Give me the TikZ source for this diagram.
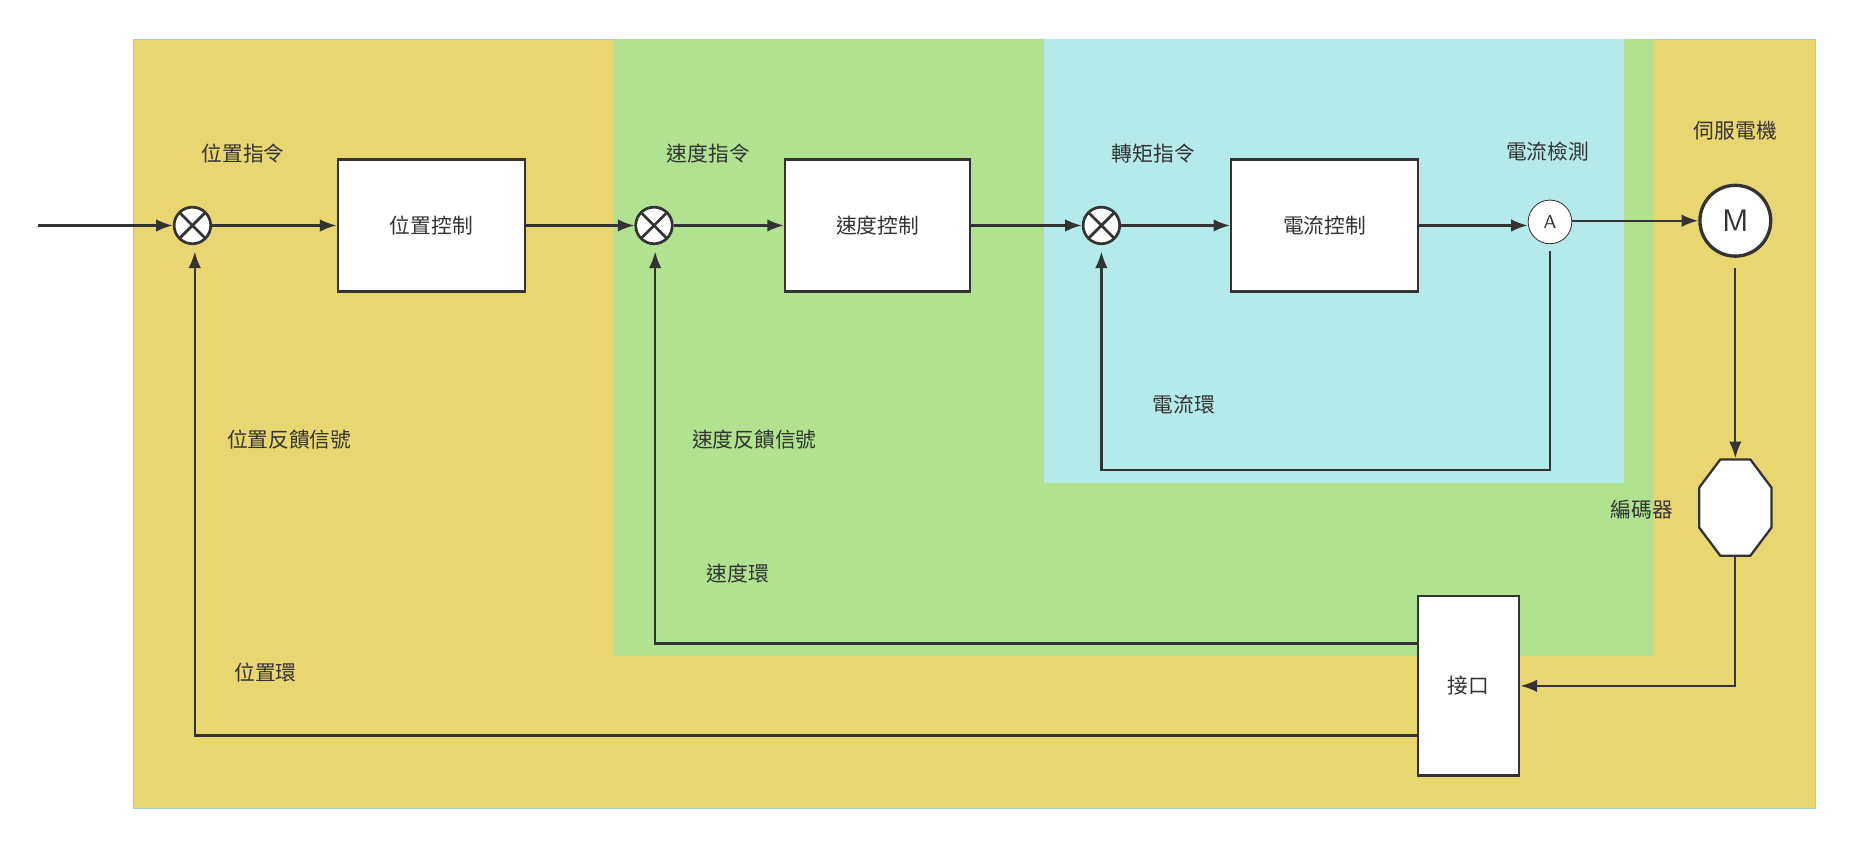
\documentclass[tikz,border=0pt]{standalone}
\usepackage{fontspec}
\newfontfamily\cjk{Noto Sans CJK TC}
\usetikzlibrary{positioning, arrows.meta, shapes.geometric}
\definecolor{posfill}{HTML}{E8D670}
\definecolor{spdfill}{HTML}{B0E290}
\definecolor{curfill}{HTML}{B5EAEA}
\definecolor{linec}{HTML}{333333}
\begin{document}
\begin{tikzpicture}[x=0.02cm, y=-0.02cm, >={Latex[length=8pt,width=6pt]},
  every node/.style={font=\cjk\fontsize{10}{12}\selectfont, text=linec}]
  \tikzset{block/.style={draw=linec, line width=1.1pt, fill=white, inner sep=0pt},
    sum/.style={circle, draw=linec, line width=1.3pt, fill=white, minimum size=0.62cm, inner sep=0pt,
      path picture={\draw[linec, line width=1.3pt] (path picture bounding box.north west) -- (path picture bounding box.south east)
        (path picture bounding box.north east) -- (path picture bounding box.south west);}},
    conn/.style={draw=linec, line width=1.1pt, ->}}
  \useasboundingbox (0,0) rectangle (1568,715);
  % loops
  \fill[posfill] (113,33) rectangle (1538,685);
  \draw[curfill!70!gray, thin] (113,33) rectangle (1538,685);
  \fill[spdfill] (519,33) rectangle (1401,556);
  \fill[curfill] (884,33) rectangle (1376,409);

  \coordinate (in) at (32,191);
  \node[sum] (s1) at (163,191) {};
  \node[sum] (s2) at (554,191) {};
  \node[sum] (s3) at (933,191) {};
  \node[block, minimum width=3.18cm, minimum height=2.24cm] (pc) at (365.5,191) {位置控制};
  \node[block, minimum width=3.14cm, minimum height=2.24cm] (vc) at (743.5,191) {速度控制};
  \node[block, minimum width=3.16cm, minimum height=2.24cm] (cc) at (1122,191) {電流控制};
  \node[circle, draw=linec, fill=white, minimum size=0.74cm, inner sep=0pt,
    font=\sffamily\fontsize{9}{10}\selectfont] (amp) at (1313,188) {A};
  \node[circle, draw=linec, line width=1.6pt, fill=white, minimum size=1.2cm, inner sep=0pt,
    font=\sffamily\fontsize{15}{16}\selectfont] (mot) at (1470,187) {M};
  \node[regular polygon, regular polygon sides=8, draw=linec, line width=1.1pt, fill=white,
    minimum width=1.7cm, yscale=1.04, xscale=0.78] (enc) at (1470,430) {};
  \node[block, minimum width=1.72cm, minimum height=3.04cm] (itf) at (1244,581) {接口};

  \draw[conn] (in) -- (s1);
  \draw[conn] (s1) -- (pc);
  \draw[conn] (pc) -- (s2);
  \draw[conn] (s2) -- (vc);
  \draw[conn] (vc) -- (s3);
  \draw[conn] (s3) -- (cc);
  \draw[conn] (cc.east) -- (cc.east -| amp.west);
  \draw[conn] (amp.east |- mot.west) -- (mot.west);
  \draw[conn] (1470,227) -- (enc.north);
  \draw[conn] (enc.south) |- (itf.east);
  \draw[conn] (amp.south) ++(0,6) |- (933,398) -- (933,213);
  \draw[conn] (itf.west |- 0,545) -| (555,213);
  \draw[conn] (itf.west |- 0,623) -| (165,213);

  \node at (206,130) {位置指令};
  \node at (600,130) {速度指令};
  \node at (977,130) {轉矩指令};
  \node at (1311,128) {電流檢測};
  \node at (1470,111) {伺服電機};
  \node at (245,372) {位置反饋信號};
  \node at (639,372) {速度反饋信號};
  \node at (1003,343) {電流環};
  \node at (625,486) {速度環};
  \node at (225,570) {位置環};
  \node at (1391,432) {編碼器};
\end{tikzpicture}
\end{document}
